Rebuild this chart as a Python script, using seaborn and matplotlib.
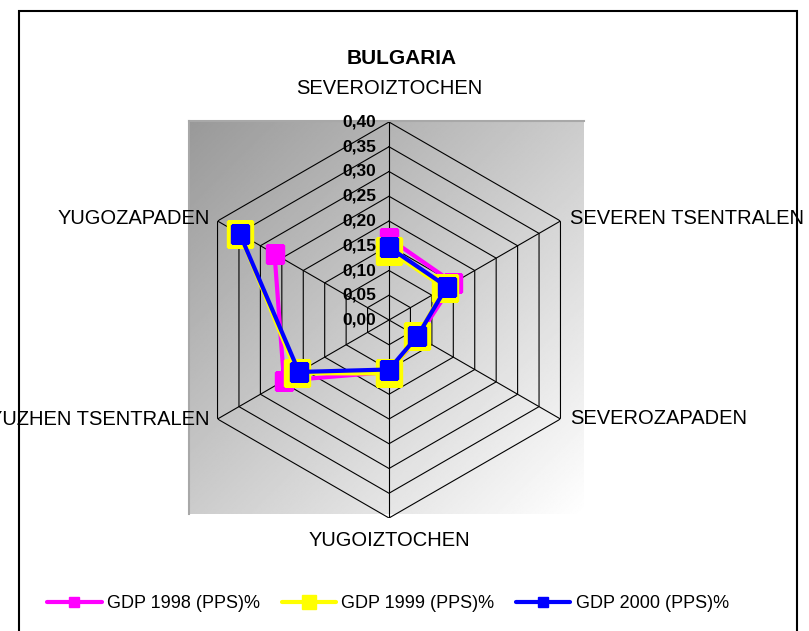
import numpy as np
import matplotlib
matplotlib.use("Agg")
import matplotlib.pyplot as plt
import seaborn as sns
from matplotlib.patches import Rectangle

# data (share of national GDP, PPS)
categories = ["SEVEROIZTOCHEN", "SEVEREN TSENTRALEN", "SEVEROZAPADEN",
              "YUGOIZTOCHEN", "YUZHEN TSENTRALEN", "YUGOZAPADEN"]
gdp_1998 = [0.165, 0.150, 0.068, 0.105, 0.245, 0.267]
gdp_1999 = [0.140, 0.130, 0.066, 0.108, 0.215, 0.348]
gdp_2000 = [0.147, 0.135, 0.066, 0.100, 0.210, 0.348]
series_names = ["GDP 1998 (PPS)%", "GDP 1999 (PPS)%", "GDP 2000 (PPS)%"]
tick_values = [0.00, 0.05, 0.10, 0.15, 0.20, 0.25, 0.30, 0.35, 0.40]
tick_labels = ["0,00", "0,05", "0,10", "0,15", "0,20", "0,25", "0,30", "0,35", "0,40"]

sns.set_style("white")
plt.rcParams['font.family'] = ['Liberation Sans', 'DejaVu Sans']
plt.rcParams['text.color'] = 'black'

W, H = 809, 631
fig = plt.figure(figsize=(W / 100, H / 100), dpi=100)

# grey gradient plot area behind the radar
bg = fig.add_axes([189 / W, (H - 514) / H, 395 / W, 393 / H])
u = np.linspace(0, 1, 300)
U, V = np.meshgrid(u, u)
grad = 0.6 + 0.2 * U + 0.2 * V
bg.imshow(grad, cmap='gray', vmin=0, vmax=1, aspect='auto', origin='upper')
bg.set_xticks([])
bg.set_yticks([])
for side, s in bg.spines.items():
    if side in ('top', 'left'):
        s.set_color('#a8a8a8')
        s.set_linewidth(1.5)
    else:
        s.set_visible(False)

# radar axes
ax = fig.add_axes([191 / W, (H - 518) / H, 396 / W, 396 / H], projection='polar')
ax.patch.set_alpha(0)
ax.set_theta_offset(np.pi / 2)
ax.set_theta_direction(-1)
ax.grid(False)
ax.spines['polar'].set_visible(False)
ax.set_xticks([])
ax.set_yticks([])

angles = np.linspace(0, 2 * np.pi, len(categories), endpoint=False)
closed = np.append(angles, angles[0])
rmax = tick_values[-1]

# hexagonal grid and spokes
for r in tick_values[1:]:
    ax.plot(closed, [r] * len(closed), color='black', lw=0.8, zorder=1)
for a in angles:
    ax.plot([a, a], [0, rmax], color='black', lw=0.8, zorder=1)

colors = ['#FF00FF', '#FFFF00', '#0000FF']
msizes = [13.5, 18.5, 13.5]
for vals, col, ms, name in zip([gdp_1998, gdp_1999, gdp_2000], colors, msizes, series_names):
    sns.lineplot(x=closed, y=vals + [vals[0]], sort=False, ax=ax, color=col, lw=3,
                 marker='s', markersize=ms, markeredgecolor=col, markeredgewidth=1,
                 label=name, legend=False, zorder=3)
ax.set_ylim(0, rmax)
ax.set_xlabel('')
ax.set_ylabel('')

# value labels along the top spoke
for r, lbl in zip(tick_values, tick_labels):
    ax.annotate(lbl, xy=(0, r), xytext=(-13, 0), textcoords='offset pixels',
                ha='right', va='center', fontsize=12.5, fontweight='bold', zorder=10)

# category labels
offsets = [(0, 33, 'center'), (10, 3, 'left'), (10, 0, 'left'),
           (0, -22, 'center'), (-8, 0, 'right'), (-8, 3, 'right')]
for a, cat, (dx, dy, ha) in zip(angles, categories, offsets):
    ax.annotate(cat, xy=(a, rmax), xytext=(dx, dy), textcoords='offset pixels',
                ha=ha, va='center', fontsize=14.5, annotation_clip=False)

fig.text(402 / W, 1 - 59 / H, "BULGARIA", ha='center', va='center',
         fontsize=15, fontweight='bold')

handles, labels = ax.get_legend_handles_labels()
fig.legend(handles, labels, loc='center', bbox_to_anchor=(388 / W, (H - 604) / H),
           ncol=3, frameon=False, fontsize=13, handlelength=3.0, handletextpad=0.3,
           columnspacing=1.2, markerscale=0.55)

# outer chart frame
fig.add_artist(Rectangle((19 / W, -0.05), (797 - 19) / W, 1 - 11 / H + 0.05,
                         transform=fig.transFigure, fill=False, lw=1.5, ec='black'))

fig.savefig('out.png', dpi=100)
